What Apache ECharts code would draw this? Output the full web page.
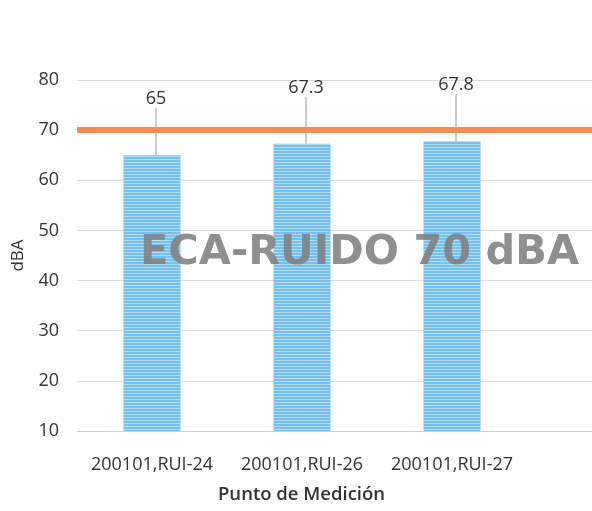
<!DOCTYPE html>
<html>
<head>
<meta charset="utf-8">
<script src="https://cdn.jsdelivr.net/npm/echarts@6/dist/echarts.min.js"></script>
<style>
html,body{margin:0;padding:0;background:#fff;}
#main{width:592px;height:511px;}
</style>
</head>
<body>
<div id="main"></div>
<script>
// puntos de medicion (el 4to queda fuera del recorte de la imagen)
var puntos = ['200101,RUI-24', '200101,RUI-26', '200101,RUI-27', ''];
var niveles = [65, 67.3, 67.8, null];
var eca = 70;
var yTicks = [10, 20, 30, 40, 50, 60, 70, 80];

var myChart = echarts.init(document.getElementById('main'));
var fuente = '"Open Sans", sans-serif';

var option = {
    animation: false,
    grid: {left: 77, width: 600, top: 80, bottom: 80, outerBoundsMode: 'none', containLabel: false},
    xAxis: {
        type: 'category',
        data: puntos,
        axisLine: {show: true, lineStyle: {color: '#d0d0d0', width: 1}},
        axisTick: {show: false},
        axisLabel: {color: '#333', fontSize: 18, fontFamily: fuente, margin: 25, interval: 0}
    },
    yAxis: {
        type: 'value',
        min: yTicks[0],
        max: yTicks[yTicks.length - 1],
        interval: 10,
        name: 'dBA',
        nameLocation: 'middle',
        nameGap: 50,
        nameTextStyle: {color: '#333', fontSize: 17, fontFamily: fuente},
        axisLine: {show: false},
        axisTick: {show: false},
        axisLabel: {color: '#333', fontSize: 18, fontFamily: fuente, margin: 18},
        splitLine: {lineStyle: {color: '#dcdcdc', width: 1}}
    },
    series: [{
        type: 'bar',
        data: niveles,
        barWidth: 57,
        itemStyle: {
            color: '#74c1ee',
            decal: {
                symbol: 'rect',
                color: 'rgba(255,255,255,0.45)',
                dashArrayX: [1, 0],
                dashArrayY: [1, 2],
                rotation: 0
            }
        },
        label: {
            show: true,
            position: 'top',
            distance: 5,
            color: '#333',
            fontSize: 18,
            fontFamily: fuente
        },
        labelLayout: {dy: -42, dx: 4},
        labelLine: {show: true, lineStyle: {color: '#999', width: 1}},
        markLine: {
            silent: true,
            symbol: 'none',
            label: {show: false},
            lineStyle: {color: '#ef8c58', width: 6, type: 'solid'},
            data: [{yAxis: eca}]
        }
    }],
    graphic: [
        {
            type: 'text',
            x: 140,
            y: 253,
            z: 100,
            style: {
                text: 'ECA-RUIDO 70 dBA',
                fill: 'rgba(128,128,128,0.88)',
                font: 'bold 41.5px "DejaVu Sans", sans-serif',
                verticalAlign: 'middle'
            }
        },
        {
            type: 'text',
            left: 218,
            top: 485,
            style: {
                text: 'Punto de Medición',
                fill: '#333',
                font: '600 18.5px "Open Sans", sans-serif'
            }
        }
    ]
};
myChart.setOption(option);
</script>
</body>
</html>
